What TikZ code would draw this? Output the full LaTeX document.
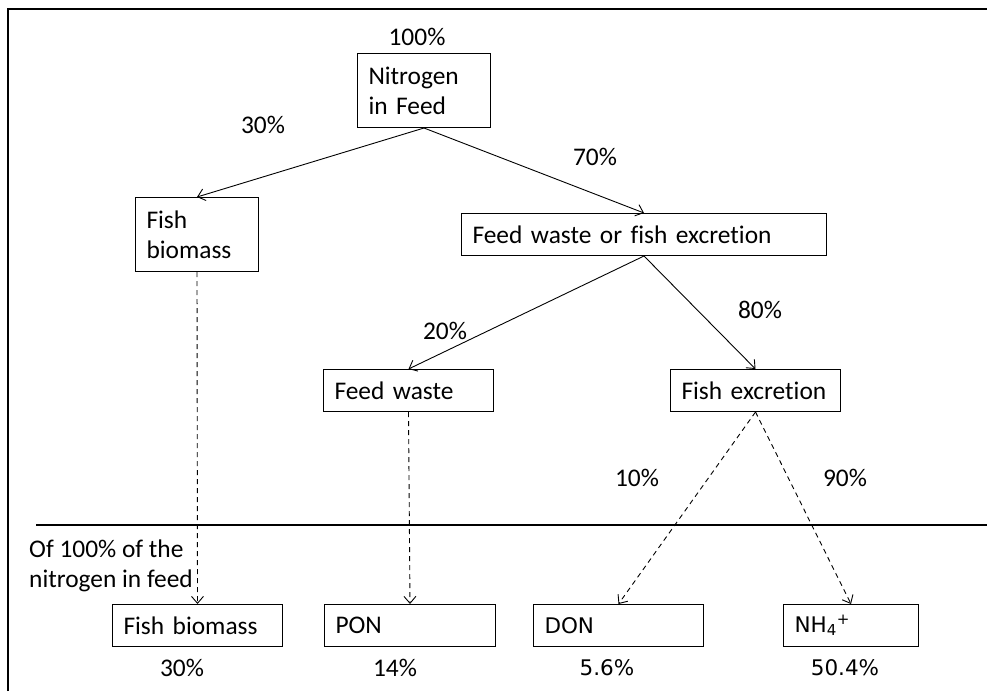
\documentclass[tikz,border=0pt]{standalone}
\usepackage{fontspec}
\setmainfont{Carlito}[Ligatures=NoCommon]
\newfontfamily\dejavu{DejaVu Sans}
\newcommand\dvfont{\dejavu\fontsize{21.5}{25}\selectfont}
\usetikzlibrary{positioning,arrows.meta}

\begin{document}
\begin{tikzpicture}[x=1pt, y=-1pt, font=\fontsize{25.4}{30}\selectfont,
    box/.style={draw, line width=1pt, anchor=north west, inner xsep=11pt, inner ysep=0pt,
                align=left, text width=#1, minimum height=42pt},
    pct/.style={inner sep=0pt},
    flow/.style={-{Straight Barb[length=7pt,width=12pt]}, line width=0.9pt},
    dflow/.style={flow, dash pattern=on 5pt off 4pt}]
    \useasboundingbox (0,0) rectangle (987,691);

    % frame and separator
    \draw[line width=2.5pt] (8,691) -- (8,9) -- (987,9);
    \draw[line width=1.5pt] (36,525) -- (987,525);

    % upper boxes
    \node[box=111pt, minimum height=74pt] (nfeed) at (357,53) {Nitrogen\\in Feed};
    \node[box=101pt, minimum height=74pt] (fbio) at (135,197) {Fish\\biomass};
    \node[box=343pt] (wastex) at (461,213) {Feed waste or fish excretion};
    \node[box=148pt] (fwaste) at (323,369) {Feed waste};
    \node[box=148pt] (fexcr) at (670,369) {Fish excretion};

    % lower boxes
    \node[box=148pt] (fbbot) at (112,604) {Fish biomass};
    \node[box=149pt] (pon) at (324,604) {PON};
    \node[box=148pt] (don) at (533,604) {\dvfont DON};
    \node[box=113pt] (nh4) at (783,604) {\dvfont NH\textsubscript{4}\textsuperscript{+}};

    % percentages
    \node[pct] (p100) at (417,37) {100\%};
    \node[pct] (p30) at (263,125) {30\%};
    \node[pct] (p70) at (595,157) {70\%};
    \node[pct] (p20) at (445,331) {20\%};
    \node[pct] (p80) at (760,310) {80\%};
    \node[pct] (p10) at (637,478) {10\%};
    \node[pct] (p90) at (845,478) {90\%};
    \node[pct] (q30) at (182,668) {30\%};
    \node[pct] (q14) at (395,668) {14\%};
    \node[pct] (q56) at (607,668) {\dvfont 5.6\%};
    \node[pct] (q504) at (845,668) {\dvfont 50.4\%};

    \node[pct, anchor=west, align=left] (note) at (29,566) {Of 100\% of the\\nitrogen in feed};

    % connectors
    \draw[flow] (nfeed.south) -- (fbio.north);
    \draw[flow] (nfeed.south) -- (wastex.north);
    \draw[flow] (wastex.south) -- (fwaste.north);
    \draw[flow] (wastex.south) -- (fexcr.north);
    \draw[dflow] (fbio.south) -- (fbbot.north);
    \draw[dflow] (fwaste.south) -- (pon.north);
    \draw[dflow] (fexcr.south) -- (don.north);
    \draw[dflow] (fexcr.south) -- (nh4.north);
\end{tikzpicture}
\end{document}
